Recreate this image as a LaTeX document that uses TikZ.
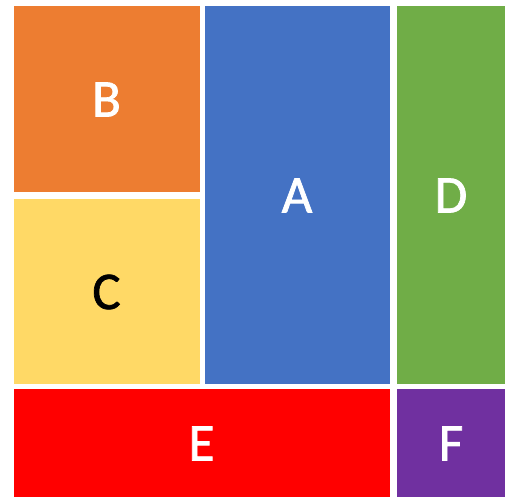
\documentclass[tikz,border=0pt]{standalone}
\usepackage{fontspec}
\setmainfont{Carlito}
\newfontfamily\lblfont{Carlito}[FakeBold=1.3]
\usepackage{tikz}

\definecolor{blkorange}{HTML}{ED7D31}
\definecolor{blkblue}{HTML}{4472C4}
\definecolor{blkgreen}{HTML}{70AD47}
\definecolor{blkyellow}{HTML}{FFD966}
\definecolor{blkred}{HTML}{FF0000}
\definecolor{blkpurple}{HTML}{7030A0}

\begin{document}
\begin{tikzpicture}[x=1pt,y=-1pt,
    blk/.style={draw=white,line width=0.8pt},
    lbl/.style={font=\lblfont\fontsize{53}{63}\selectfont,text=white}]
  \useasboundingbox (0,0) rectangle (508,499);
  \fill[white] (0,0) rectangle (508,499);
  % left column
  \filldraw[blk,fill=blkorange] (13,5) rectangle (200,192);
  \node[lbl] (B) at (106.5,99.5) {B};
  \filldraw[blk,fill=blkyellow] (13,198) rectangle (200,384);
  \node[lbl,text=black] (C) at (106.5,292) {C};
  % middle and right
  \filldraw[blk,fill=blkblue] (204,5) rectangle (390,384);
  \node[lbl] (A) at (297,195.5) {A};
  \filldraw[blk,fill=blkgreen] (396,5) rectangle (505,384);
  \node[lbl] (D) at (451,195.5) {D};
  % bottom row
  \filldraw[blk,fill=blkred] (13,388) rectangle (390,497);
  \node[lbl] (E) at (201.5,443.5) {E};
  \filldraw[blk,fill=blkpurple] (396,388) rectangle (505,497);
  \node[lbl] (F) at (451,443.5) {F};
\end{tikzpicture}
\end{document}
